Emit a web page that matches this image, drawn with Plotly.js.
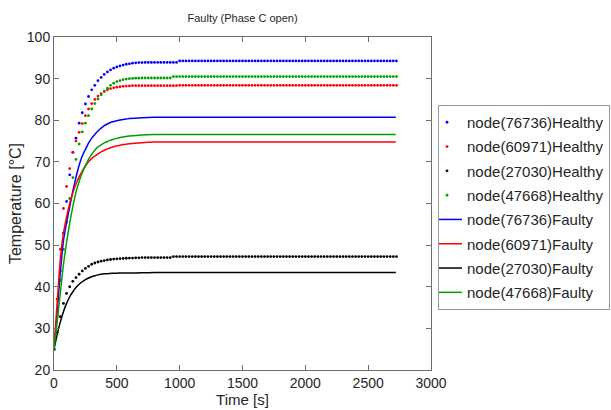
<!DOCTYPE html>
<html>
<head>
<meta charset="utf-8">
<script src="https://cdn.plot.ly/plotly-3.0.1.min.js"></script>
<style>
  html, body { margin: 0; padding: 0; background: #fff; }
  #chart { width: 611px; height: 410px; }
</style>
</head>
<body>
<div id="chart"></div>
<script>
// Time stamps of the healthy-case samples [s]
const healthyTime = [
  0, 25, 50, 75, 100, 125, 150, 175, 200, 225, 250, 275, 300, 325, 350, 375, 400, 425, 450, 475,
  500, 525, 550, 575, 600, 625, 650, 675, 700, 725, 750, 775, 800, 825, 850, 875, 900, 925, 950, 975,
  1000, 1025, 1050, 1075, 1100, 1125, 1150, 1175, 1200, 1225, 1250, 1275, 1300, 1325, 1350, 1375, 1400, 1425, 1450, 1475,
  1500, 1525, 1550, 1575, 1600, 1625, 1650, 1675, 1700, 1725, 1750, 1775, 1800, 1825, 1850, 1875, 1900, 1925, 1950, 1975,
  2000, 2025, 2050, 2075, 2100, 2125, 2150, 2175, 2200, 2225, 2250, 2275, 2300, 2325, 2350, 2375, 2400, 2425, 2450, 2475,
  2500, 2525, 2550, 2575, 2600, 2625, 2650, 2675, 2700, 2725
];

// Healthy temperatures [°C]
const healthy76736 = [
  25, 34.2, 43.8, 52.9, 60.5, 66.9, 72.3, 75.7, 79.3, 81.8, 83.9, 85.7, 87.3, 88.4, 89.5, 90.3, 91.0, 91.6, 92.1, 92.5,
  92.8, 93.05, 93.25, 93.45, 93.55, 93.7, 93.8, 93.85, 93.85, 93.9, 93.9, 93.9, 93.9, 93.9, 93.9, 93.9, 93.9, 93.9, 93.9, 93.9,
  94.25, 94.25, 94.25, 94.25, 94.25, 94.25, 94.25, 94.25, 94.25, 94.25, 94.25, 94.25, 94.25, 94.25, 94.25, 94.25, 94.25, 94.25, 94.25, 94.25,
  94.25, 94.25, 94.25, 94.25, 94.25, 94.25, 94.25, 94.25, 94.25, 94.25, 94.25, 94.25, 94.25, 94.25, 94.25, 94.25, 94.25, 94.25, 94.25, 94.25,
  94.25, 94.25, 94.25, 94.25, 94.25, 94.25, 94.25, 94.25, 94.25, 94.25, 94.25, 94.25, 94.25, 94.25, 94.25, 94.25, 94.25, 94.25, 94.25, 94.25,
  94.25, 94.25, 94.25, 94.25, 94.25, 94.25, 94.25, 94.25, 94.25, 94.25
];
const healthy60971 = [
  25, 37.0, 49.0, 58.8, 64.1, 68.4, 72.3, 75.0, 77.1, 79.2, 81.1, 82.7, 84.0, 85.0, 85.8, 86.4, 86.9, 87.3, 87.6, 87.8,
  87.95, 88.05, 88.15, 88.2, 88.25, 88.3, 88.3, 88.3, 88.3, 88.3, 88.3, 88.3, 88.3, 88.3, 88.3, 88.3, 88.3, 88.3, 88.3, 88.3,
  88.4, 88.4, 88.4, 88.4, 88.4, 88.4, 88.4, 88.4, 88.4, 88.4, 88.4, 88.4, 88.4, 88.4, 88.4, 88.4, 88.4, 88.4, 88.4, 88.4,
  88.4, 88.4, 88.4, 88.4, 88.4, 88.4, 88.4, 88.4, 88.4, 88.4, 88.4, 88.4, 88.4, 88.4, 88.4, 88.4, 88.4, 88.4, 88.4, 88.4,
  88.4, 88.4, 88.4, 88.4, 88.4, 88.4, 88.4, 88.4, 88.4, 88.4, 88.4, 88.4, 88.4, 88.4, 88.4, 88.4, 88.4, 88.4, 88.4, 88.4,
  88.4, 88.4, 88.4, 88.4, 88.4, 88.4, 88.4, 88.4, 88.4, 88.4
];
const healthy27030 = [
  25, 29.0, 32.8, 36.0, 38.4, 40.0, 41.3, 42.2, 43.0, 43.8, 44.4, 44.9, 45.4, 45.7, 45.95, 46.15, 46.3, 46.45, 46.55, 46.65,
  46.7, 46.75, 46.8, 46.85, 46.9, 46.9, 46.95, 46.95, 47.0, 47.0, 47.0, 47.0, 47.0, 47.0, 47.0, 47.0, 47.0, 47.0, 47.25, 47.25,
  47.25, 47.25, 47.25, 47.25, 47.25, 47.25, 47.25, 47.25, 47.25, 47.25, 47.25, 47.25, 47.25, 47.25, 47.25, 47.25, 47.25, 47.25, 47.25, 47.25,
  47.25, 47.25, 47.25, 47.25, 47.25, 47.25, 47.25, 47.25, 47.25, 47.25, 47.25, 47.25, 47.25, 47.25, 47.25, 47.25, 47.25, 47.25, 47.25, 47.25,
  47.25, 47.25, 47.25, 47.25, 47.25, 47.25, 47.25, 47.25, 47.25, 47.25, 47.25, 47.25, 47.25, 47.25, 47.25, 47.25, 47.25, 47.25, 47.25, 47.25,
  47.25, 47.25, 47.25, 47.25, 47.25, 47.25, 47.25, 47.25, 47.25, 47.25
];
const healthy47668 = [
  25, 33.0, 41.5, 49.0, 55.5, 61.2, 66.2, 70.6, 74.3, 77.2, 79.3, 81.1, 82.7, 84.0, 85.1, 86.1, 87.0, 87.7, 88.4, 88.9,
  89.3, 89.5, 89.75, 89.9, 90.0, 90.05, 90.1, 90.1, 90.15, 90.15, 90.15, 90.15, 90.15, 90.15, 90.15, 90.15, 90.15, 90.15, 90.5, 90.5,
  90.5, 90.5, 90.5, 90.5, 90.5, 90.5, 90.5, 90.5, 90.5, 90.5, 90.5, 90.5, 90.5, 90.5, 90.5, 90.5, 90.5, 90.5, 90.5, 90.5,
  90.5, 90.5, 90.5, 90.5, 90.5, 90.5, 90.5, 90.5, 90.5, 90.5, 90.5, 90.5, 90.5, 90.5, 90.5, 90.5, 90.5, 90.5, 90.5, 90.5,
  90.5, 90.5, 90.5, 90.5, 90.5, 90.5, 90.5, 90.5, 90.5, 90.5, 90.5, 90.5, 90.5, 90.5, 90.5, 90.5, 90.5, 90.5, 90.5, 90.5,
  90.5, 90.5, 90.5, 90.5, 90.5, 90.5, 90.5, 90.5, 90.5, 90.5
];

// Time stamps of the faulty-case samples [s]
const faultyTime = [
  0, 25, 50, 75, 100, 125, 150, 175, 200, 225, 250, 275, 300, 325, 350, 375, 400, 425, 450, 475,
  500, 525, 550, 575, 600, 700, 800, 900, 1000, 1500, 2000, 2500, 2720
];

// Faulty (phase C open) temperatures [°C]
const faulty76736 = [
  25, 34.0, 43.3, 51.0, 55.4, 59.2, 63.0, 66.3, 69.2, 71.4, 73.0, 74.5, 75.7, 76.6, 77.4, 78.1, 78.7, 79.1, 79.45, 79.7,
  79.9, 80.05, 80.2, 80.3, 80.4, 80.6, 80.7, 80.7, 80.7, 80.7, 80.7, 80.7, 80.7
];
const faulty60971 = [
  25, 36.0, 46.5, 52.8, 56.8, 60.0, 62.6, 64.7, 66.4, 67.8, 69.0, 70.0, 70.8, 71.4, 71.9, 72.4, 72.8, 73.1, 73.4, 73.65,
  73.85, 74.0, 74.15, 74.25, 74.35, 74.6, 74.75, 74.8, 74.8, 74.8, 74.8, 74.8, 74.8
];
const faulty27030 = [
  25, 28.5, 31.5, 34.0, 36.0, 37.6, 38.8, 39.8, 40.6, 41.2, 41.7, 42.1, 42.4, 42.65, 42.85, 43.0, 43.1, 43.15, 43.2, 43.25,
  43.25, 43.3, 43.3, 43.3, 43.3, 43.35, 43.4, 43.4, 43.4, 43.4, 43.4, 43.4, 43.4
];
const faulty47668 = [
  25, 31.5, 38.5, 45.3, 50.7, 55.3, 59.3, 62.7, 65.3, 67.4, 69.1, 70.6, 71.8, 72.8, 73.6, 74.1, 74.55, 74.9, 75.2, 75.45,
  75.65, 75.85, 76.0, 76.1, 76.2, 76.45, 76.55, 76.6, 76.6, 76.6, 76.6, 76.6, 76.6
];

const nodeNames = ['node(76736)', 'node(60971)', 'node(27030)', 'node(47668)'];
const nodeColors = ['#0000ff', '#ff0000', '#000000', '#00a000'];
const healthySeries = [healthy76736, healthy60971, healthy27030, healthy47668];
const faultySeries = [faulty76736, faulty60971, faulty27030, faulty47668];

const traces = [];
healthySeries.forEach((vals, i) => {
  traces.push({
    x: healthyTime, y: vals, type: 'scatter', mode: 'markers',
    name: nodeNames[i] + 'Healthy', legendgroup: 'h' + i,
    marker: { color: nodeColors[i], size: 2.8, line: { width: 0 } }
  });
});
faultySeries.forEach((vals, i) => {
  traces.push({
    x: faultyTime, y: vals, type: 'scatter', mode: 'lines',
    name: nodeNames[i] + 'Faulty', legendgroup: 'f' + i,
    line: { color: nodeColors[i], width: 1.5, shape: 'spline', smoothing: 0.6 }
  });
});

const FONT = 'Liberation Sans, Arial, sans-serif';
const axisCommon = {
  showline: true, linecolor: '#6e6e6e', linewidth: 1, mirror: 'ticks',
  ticks: 'inside', ticklen: 5, tickcolor: '#6e6e6e', tickwidth: 1,
  showgrid: false, zeroline: false,
  tickfont: { family: FONT, size: 14, color: '#262626' }
};

const layout = {
  width: 611, height: 410,
  margin: { l: 54, r: 180, t: 37, b: 40, autoexpand: false },
  paper_bgcolor: '#ffffff', plot_bgcolor: '#ffffff',
  font: { family: FONT, color: '#262626' },
  title: {
    text: 'Faulty (Phase C open)',
    font: { family: FONT, size: 11, color: '#262626' },
    x: 0.397, xanchor: 'center', y: 0.956, yanchor: 'middle'
  },
  xaxis: Object.assign({}, axisCommon, {
    range: [0, 3000], tick0: 0, dtick: 500,
    title: { text: 'Time [s]', font: { family: FONT, size: 15, color: '#262626' }, standoff: 2 }
  }),
  yaxis: Object.assign({}, axisCommon, {
    range: [20, 100], tick0: 20, dtick: 10,
    title: { text: 'Temperature [°C]', font: { family: FONT, size: 16, color: '#262626' }, standoff: 1 }
  }),
  showlegend: true,
  legend: {
    x: 1.0186, xanchor: 'left', y: 0.7958, yanchor: 'top',
    bordercolor: '#9a9a9a', borderwidth: 1, bgcolor: '#ffffff',
    font: { family: FONT, size: 15, color: '#262626' },
    traceorder: 'grouped', tracegroupgap: 1.8, itemwidth: 30, indentation: -12
  }
};

Plotly.newPlot('chart', traces, layout, { displayModeBar: false, staticPlot: true });
</script>
</body>
</html>
